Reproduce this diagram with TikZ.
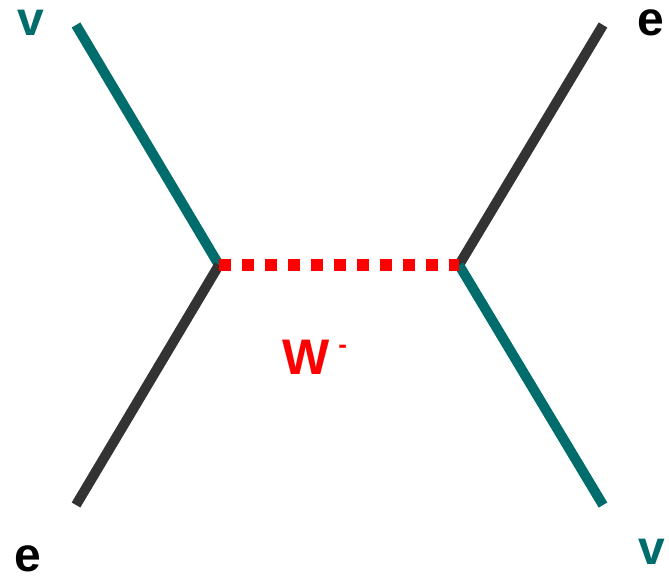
\documentclass[tikz,border=0pt]{standalone}
\usepackage{fontspec}
\setmainfont{Liberation Sans}
\definecolor{tealc}{RGB}{0,108,108}
\definecolor{darkc}{RGB}{51,51,51}
\definecolor{redc}{RGB}{255,0,0}
\begin{document}
\begin{tikzpicture}[x=1pt,y=-1pt,
  fermion/.style={line width=10pt},
  nu/.style={fermion,draw=tealc},
  el/.style={fermion,draw=darkc},
  boson/.style={draw=redc,line width=12pt,dash pattern=on 12pt off 11pt},
  lbl/.style={inner sep=0pt,anchor=base,font=\bfseries\fontsize{48}{48}\selectfont}]
\useasboundingbox (0,0) rectangle (669,577);
\coordinate (A) at (219,265);
\coordinate (B) at (459,265);
\coordinate (tl) at (76,25);
\coordinate (bl) at (76,505);
\coordinate (tr) at (603,25);
\coordinate (br) at (603,505);
\draw[nu] (tl) -- (A);
\draw[el] (A) -- (bl);
\draw[el] (tr) -- (B);
\draw[nu] (B) -- (br);
\draw[boson] (A) -- (B);
\node[lbl,text=tealc] (v1) at (31,36) {v};
\node[lbl,text=black] (e1) at (651,36) {e};
\node[lbl,text=black] (e2) at (28,571) {e};
\node[lbl,text=tealc] (v2) at (652,564) {v};
\node[inner sep=0pt,anchor=base west,text=redc,font=\bfseries\fontsize{50}{50}\selectfont] (W) at (282,374) {W\hspace{9pt}\raisebox{21pt}{\fontsize{26}{26}\selectfont -}};
\end{tikzpicture}
\end{document}
